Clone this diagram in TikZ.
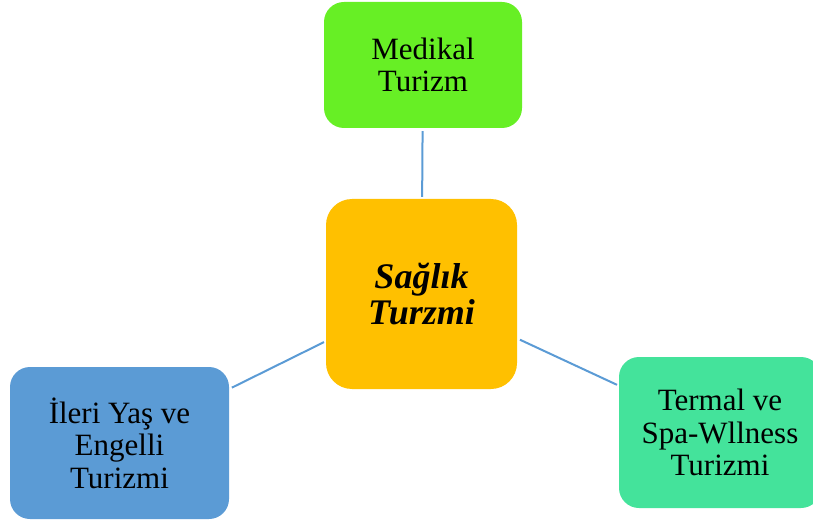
\documentclass[tikz,border=0pt]{standalone}
\usepackage{fontspec}
\setmainfont{Liberation Serif}
\definecolor{cgreen}{HTML}{67EF25}
\definecolor{corange}{HTML}{FFC000}
\definecolor{cblue}{HTML}{5B9BD5}
\definecolor{cteal}{HTML}{44E39B}
\definecolor{cline}{HTML}{5B9BD5}
\tikzset{
  box/.style={rectangle, rounded corners=20pt, draw=none, align=center, inner sep=0pt,
    font=\fontsize{31}{32.5}\selectfont},
  link/.style={draw=cline, line width=2pt, shorten <=3pt, shorten >=2pt}
}
\begin{document}
\begin{tikzpicture}[x=1pt,y=-1pt]
\useasboundingbox (0,0) rectangle (813,521);
\node[box, fill=cgreen, minimum width=198pt, minimum height=126pt] (med) at (423,65) {Medikal\\Turizm};
\node[box, fill=corange, rounded corners=26pt, minimum width=191pt, minimum height=190pt,
  font=\fontsize{36}{36}\selectfont\bfseries\itshape] (sag) at (421.5,294) {Sağlık\\Turzmi};
\node[box, fill=cblue, minimum width=219pt, minimum height=152pt] (ileri) at (119.5,443) {İleri Yaş ve\\Engelli\\Turizmi};
\node[box, fill=cteal, minimum width=202pt, minimum height=151pt] (term) at (720,432.5) {Termal ve\\Spa-Wllness\\Turizmi};
\draw[link] (med) -- (sag);
\draw[link] (ileri) -- (sag);
\draw[link] (sag) -- (term);
\end{tikzpicture}
\end{document}
